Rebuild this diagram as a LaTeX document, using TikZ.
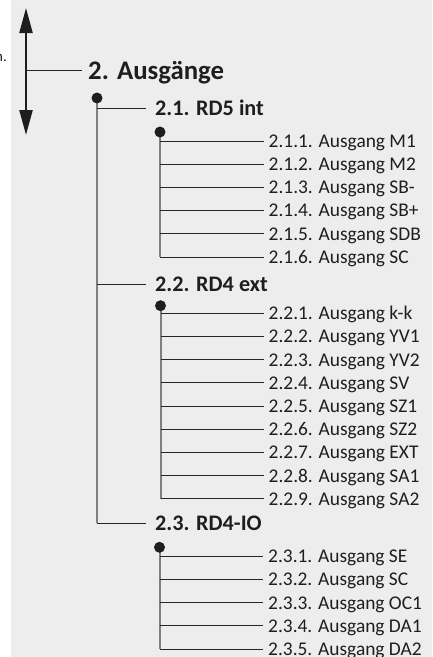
\documentclass[tikz,border=0pt]{standalone}
\usepackage{fontspec}
\setmainfont{Carlito}
\usetikzlibrary{positioning,arrows.meta}
\definecolor{bgGray}{RGB}{237,237,237}
\definecolor{txtDark}{RGB}{30,30,30}
\definecolor{lineGray}{RGB}{128,128,128}

\begin{document}
\begin{tikzpicture}[x=1pt,y=1pt,
  node distance=23.2pt,
  hdr/.style={anchor=west,inner xsep=6pt,inner ysep=0pt,text height=17pt,text depth=0pt,font=\fontsize{26.8}{28}\selectfont\bfseries,text=txtDark},
  grp/.style={anchor=west,inner xsep=9pt,inner ysep=0pt,text height=14pt,text depth=0pt,font=\fontsize{22.2}{24}\selectfont\bfseries,text=txtDark},
  leaf/.style={anchor=west,inner xsep=5pt,inner ysep=0pt,text height=12.6pt,text depth=0pt,font=\fontsize{19.4}{22}\selectfont,text=txtDark},
  bullet/.style={circle,fill=txtDark,draw=none,inner sep=0pt,outer sep=0pt,minimum size=11pt},
  vl/.style={draw=lineGray,line width=2pt},
  hl/.style={draw=black!85,line width=1pt},
  ar/.style={{Triangle[length=25pt,width=13pt]}-{Triangle[length=25pt,width=13pt]},line width=2.2pt,draw=txtDark}]
\useasboundingbox (0,0) rectangle (432,-657);
\fill[bgGray] (11,0) rectangle (432,-657);
% ---- cut text at the left edge ----
\node[anchor=base east,inner sep=0pt,font=\fontsize{15}{18}\selectfont,text=txtDark] (cut) at (7,-61.7) {n.};
% ---- up/down arrow ----
\coordinate (up) at (26,-8);
\coordinate (down) at (26,-135);
\coordinate (j) at (26,-70.7);
\draw[ar] (down)--(up);
\node[hdr] (h2) at (82,-70.7) {2. Ausgänge};
\draw[hl] (j)--(h2.west);
% ---- level 2 ----
\coordinate (d2) at (97,-98);
\node[grp] (g21) at (146,-108.5) {2.1. RD5 int};
\node[grp] (g22) at (146,-284) {2.2. RD4 ext};
\node[grp] (g23) at (146,-523) {2.3. RD4-IO};
\draw[vl] (d2)--(d2 |- g23.west);
\draw[hl] (d2 |- g21.west)--(g21.west);
\draw[hl] (d2 |- g22.west)--(g22.west);
\draw[hl] (d2 |- g23.west)--(g23.west);
\node[bullet] (b2) at (d2) {};
% ---- 2.1 RD5 int ----
\coordinate (d21) at (160,-132);
\node[leaf] (l211) at (263.5,-141) {2.1.1. Ausgang M1};
\node[below=of l211.west,leaf] (l212) {2.1.2. Ausgang M2};
\node[below=of l212.west,leaf] (l213) {2.1.3. Ausgang SB-};
\node[below=of l213.west,leaf] (l214) {2.1.4. Ausgang SB+};
\node[below=of l214.west,leaf] (l215) {2.1.5. Ausgang SDB};
\node[below=of l215.west,leaf] (l216) {2.1.6. Ausgang SC};
\draw[vl] (d21)--(d21 |- l216.west);
\draw[hl] (d21 |- l211.west)--(l211.west);
\draw[hl] (d21 |- l212.west)--(l212.west);
\draw[hl] (d21 |- l213.west)--(l213.west);
\draw[hl] (d21 |- l214.west)--(l214.west);
\draw[hl] (d21 |- l215.west)--(l215.west);
\draw[hl] (d21 |- l216.west)--(l216.west);
\node[bullet] (b21) at (d21) {};
% ---- 2.2 RD4 ext ----
\coordinate (d22) at (160.5,-305.7);
\node[leaf] (l221) at (263.5,-313.3) {2.2.1. Ausgang k-k};
\node[below=of l221.west,leaf] (l222) {2.2.2. Ausgang YV1};
\node[below=of l222.west,leaf] (l223) {2.2.3. Ausgang YV2};
\node[below=of l223.west,leaf] (l224) {2.2.4. Ausgang SV};
\node[below=of l224.west,leaf] (l225) {2.2.5. Ausgang SZ1};
\node[below=of l225.west,leaf] (l226) {2.2.6. Ausgang SZ2};
\node[below=of l226.west,leaf] (l227) {2.2.7. Ausgang EXT};
\node[below=of l227.west,leaf] (l228) {2.2.8. Ausgang SA1};
\node[below=of l228.west,leaf] (l229) {2.2.9. Ausgang SA2};
\draw[vl] (d22)--(d22 |- l229.west);
\draw[hl] (d22 |- l221.west)--(l221.west);
\draw[hl] (d22 |- l222.west)--(l222.west);
\draw[hl] (d22 |- l223.west)--(l223.west);
\draw[hl] (d22 |- l224.west)--(l224.west);
\draw[hl] (d22 |- l225.west)--(l225.west);
\draw[hl] (d22 |- l226.west)--(l226.west);
\draw[hl] (d22 |- l227.west)--(l227.west);
\draw[hl] (d22 |- l228.west)--(l228.west);
\draw[hl] (d22 |- l229.west)--(l229.west);
\node[bullet] (b22) at (d22) {};
% ---- 2.3 RD4-IO ----
\coordinate (d23) at (159.5,-547.3);
\node[leaf] (l231) at (263,-556.3) {2.3.1. Ausgang SE};
\node[below=of l231.west,leaf] (l232) {2.3.2. Ausgang SC};
\node[below=of l232.west,leaf] (l233) {2.3.3. Ausgang OC1};
\node[below=of l233.west,leaf] (l234) {2.3.4. Ausgang DA1};
\node[below=of l234.west,leaf] (l235) {2.3.5. Ausgang DA2};
\draw[vl] (d23)--(d23 |- l235.west);
\draw[hl] (d23 |- l231.west)--(l231.west);
\draw[hl] (d23 |- l232.west)--(l232.west);
\draw[hl] (d23 |- l233.west)--(l233.west);
\draw[hl] (d23 |- l234.west)--(l234.west);
\draw[hl] (d23 |- l235.west)--(l235.west);
\node[bullet] (b23) at (d23) {};
\end{tikzpicture}
\end{document}
